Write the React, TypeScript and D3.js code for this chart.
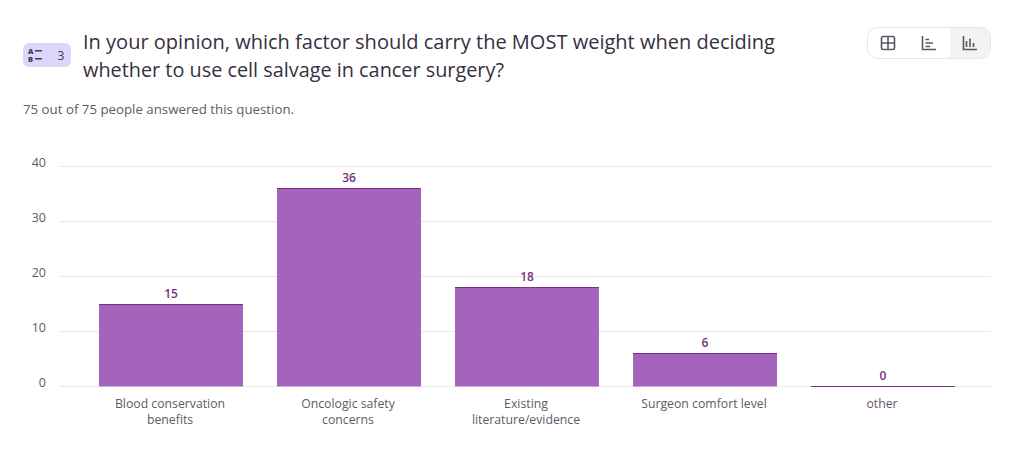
import * as d3 from 'd3';

const categories = ["Blood conservation benefits", "Oncologic safety concerns", "Existing literature/evidence", "Surgeon comfort level", "other"];
const categoryLines = [["Blood conservation", "benefits"], ["Oncologic safety", "concerns"], ["Existing", "literature/evidence"], ["Surgeon comfort level"], ["other"]];
const votes = [15, 36, 18, 6, 0];
const yTicks = [0, 10, 20, 30, 40];
const titleLines = ["In your opinion, which factor should carry the MOST weight when deciding", "whether to use cell salvage in cancer surgery?"];

const font = "'Open Sans', 'Noto Sans', sans-serif";

const App = () => {
    const x = d3.scaleBand<string>().domain(categories).range([82, 972]).paddingInner(0.191).paddingOuter(0.0955);
    const y = d3.scaleLinear().domain([0, 40]).range([386.5, 166.5]);

    return (
        <svg width={1015} height={464} style={{position: "absolute", left: 0, top: 0, background: "#fff"}} fontFamily={font}>
            {/* question badge */}
            <rect x={23} y={43} width={48} height={24} rx={6} fill="#ddd6fb" />
            <g fill="#3f3a4a">
                <text x={28} y={53.5} fontSize={7.5} fontWeight={800}>A</text>
                <text x={28} y={62} fontSize={7.5} fontWeight={800}>B</text>
                <rect x={35} y={50} width={7} height={1.5} />
                <rect x={35} y={58} width={7} height={1.5} />
            </g>
            <text x={61} y={59.5} fontSize={12} fill="#3f3a4a" textAnchor="middle">3</text>

            {/* title */}
            {titleLines.map((line, i) => (
                <text key={i} x={83} y={49 + i * 28} fontSize={20} fill="#36303f" textLength={i === 0 ? 692 : 421} lengthAdjust="spacingAndGlyphs">{line}</text>
            ))}
            <text x={23} y={114} fontSize={13} fill="#5f5a66" textLength={271} lengthAdjust="spacingAndGlyphs">75 out of 75 people answered this question.</text>

            {/* view switch */}
            <path d="M950 27.5H980a10 10 0 0 1 10 10V48.5a10 10 0 0 1 -10 10H950Z" fill="#f3f3f3" />
            <rect x={867.5} y={27.5} width={123} height={31} rx={10} fill="none" stroke="#e6e6e6" />
            <g fill="none" stroke="#5b5560" strokeWidth={1.6}>
                <rect x={881.5} y={36.5} width={13} height={13} rx={1.5} />
                <path d="M888 36.5V49.5M881.5 43H894.5" />
                <path d="M922.5 36V49.5H936" />
                <path d="M925.5 39.5H929M925.5 43H933M925.5 46.5H930" />
                <path d="M963.5 36V49.5H977" />
                <path d="M966.5 47V41M970 47V38.5M973.5 47V43" />
            </g>

            {/* grid + y axis */}
            {yTicks.map(t => (
                <g key={t}>
                    <line x1={60} x2={991} y1={y(t)} y2={y(t)} stroke="#e8e8e8" />
                    <text x={46} y={y(t) + 0.5} fontSize={12.5} fill="#5f5a66" textAnchor="end">{t}</text>
                </g>
            ))}

            {/* bars */}
            {categories.map((c, i) => {
                const bx = x(c) ?? 0;
                const cx = bx + x.bandwidth() / 2;
                return (
                    <g key={c}>
                        <rect x={bx} y={y(votes[i])} width={x.bandwidth()} height={y(0) - y(votes[i])} fill="#a564bb" />
                        <line x1={bx} x2={bx + x.bandwidth()} y1={Math.floor(y(votes[i])) + 0.5} y2={Math.floor(y(votes[i])) + 0.5} stroke="#75337f" strokeWidth={1} />
                        <text x={cx} y={y(votes[i]) - 6.5} fontSize={12} fontWeight={600} fill="#75337f" textAnchor="middle">{votes[i]}</text>
                        {categoryLines[i].map((line, j) => (
                            <text key={j} x={cx - 1} y={408 + j * 16} fontSize={12.25} fill="#5f5a66" textAnchor="middle">{line}</text>
                        ))}
                    </g>
                );
            })}
        </svg>
    );
};

export default App;
